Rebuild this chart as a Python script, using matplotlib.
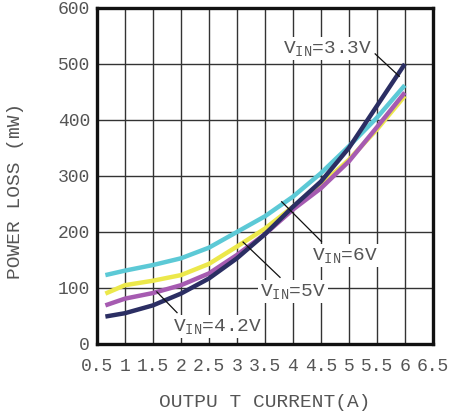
import matplotlib
matplotlib.use("Agg")
import matplotlib.pyplot as plt

plt.rcParams['font.family'] = ['Liberation Mono', 'DejaVu Sans Mono']
plt.rcParams['mathtext.fontset'] = 'custom'
plt.rcParams['mathtext.rm'] = 'Liberation Mono'
plt.rcParams['mathtext.it'] = 'Liberation Mono'

# output current (A) and power loss (mW) per input voltage
current = [0.65, 1.0, 1.5, 2.0, 2.5, 3.0, 3.5, 4.0, 4.5, 5.0, 5.5, 6.0]
loss_3v3 = [49, 55, 69, 90, 117, 153, 196, 245, 290, 350, 425, 500]
loss_4v2 = [69, 81, 91, 105, 126, 159, 196, 240, 278, 326, 387, 449]
loss_5v = [90, 105, 113, 123, 143, 174, 206, 245, 284, 329, 383, 443]
loss_6v = [123, 131, 141, 153, 172, 200, 228, 263, 305, 353, 404, 462]

x_ticks = [0.5, 1, 1.5, 2, 2.5, 3, 3.5, 4, 4.5, 5, 5.5, 6, 6.5]
x_labels = ['0.5', '1', '1.5', '2', '2.5', '3', '3.5', '4', '4.5', '5', '5.5', '6', '6.5']
y_ticks = [0, 100, 200, 300, 400, 500, 600]

fig = plt.figure(figsize=(4.49, 4.19), dpi=100)
ax = fig.add_axes([0.216, 0.179, 0.748, 0.802])

lw = 3.2
ax.plot(current, loss_6v, color='#5cc9d6', lw=lw, solid_capstyle='butt', zorder=3)
ax.plot(current, loss_5v, color='#ece84b', lw=lw, solid_capstyle='butt', zorder=3)
ax.plot(current, loss_4v2, color='#a65bb1', lw=lw, solid_capstyle='butt', zorder=3)
ax.plot(current, loss_3v3, color='#2b2e63', lw=lw, solid_capstyle='butt', zorder=3)

ax.set_xlim(0.5, 6.5)
ax.set_ylim(0, 600)
ax.set_xticks(x_ticks)
ax.set_xticklabels(x_labels)
ax.set_yticks(y_ticks)
ax.grid(True, color='#333333', lw=1.0, zorder=0)
ax.set_axisbelow(True)
ax.tick_params(length=0, labelsize=13, labelcolor='#555555')
ax.tick_params(axis='x', pad=10)
ax.tick_params(axis='y', pad=5)
for s in ax.spines.values():
    s.set_linewidth(2.4)
    s.set_color('#111111')
    s.set_zorder(5)

ax.set_xlabel('OUTPU T CURRENT(A)', fontsize=14, color='#555555', labelpad=14)
fig.text(0.035, 0.545, 'POWER LOSS (mW)', rotation=90, fontsize=14,
         color='#555555', ha='center', va='center')

box = dict(facecolor='white', edgecolor='none', pad=1.5)
labels = [
    ('V$_{\\mathrm{IN}}$=3.3V', (3.82, 528), (5.47, 518), (5.9, 478)),
    ('V$_{\\mathrm{IN}}$=6V', (4.35, 158), (3.8, 254), (4.51, 183)),
    ('V$_{\\mathrm{IN}}$=5V', (3.42, 94), (3.11, 182), (3.77, 119)),
    ('V$_{\\mathrm{IN}}$=4.2V', (1.85, 31), (1.57, 93), (1.93, 56)),
]
for text, pos, p0, p1 in labels:
    ax.plot([p0[0], p1[0]], [p0[1], p1[1]], color='#111111', lw=0.9, zorder=4)
    ax.text(pos[0], pos[1], text, fontsize=14, color='#555555', va='center',
            ha='left', bbox=box, zorder=4)

fig.savefig('out.png', dpi=100)
